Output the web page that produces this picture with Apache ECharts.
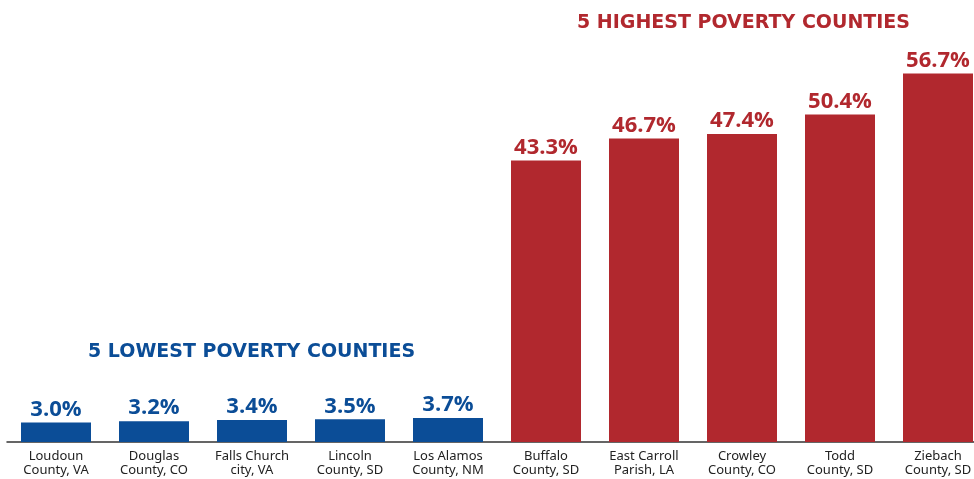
<!DOCTYPE html>
<html>
<head>
<meta charset="utf-8">
<script src="https://cdn.jsdelivr.net/npm/echarts@6/dist/echarts.min.js"></script>
<style>
html,body{margin:0;padding:0;background:#fff;}
#chart{width:974px;height:479px;}
</style>
</head>
<body>
<div id="chart"></div>
<script>
var categories = [
  "Loudoun\nCounty, VA", "Douglas\nCounty, CO", "Falls Church\ncity, VA", "Lincoln\nCounty, SD", "Los Alamos\nCounty, NM",
  "Buffalo\nCounty, SD", "East Carroll\nParish, LA", "Crowley\nCounty, CO", "Todd\nCounty, SD", "Ziebach\nCounty, SD"
];
var lowestValues = [3.0, 3.2, 3.4, 3.5, 3.7];
var highestValues = [43.3, 46.7, 47.4, 50.4, 56.7];
var lowTitle = "5 LOWEST POVERTY COUNTIES";
var highTitle = "5 HIGHEST POVERTY COUNTIES";

var BLUE = "#0b4d97";
var RED = "#b1282e";

var data = [];
lowestValues.forEach(function (v) { data.push({ value: v, itemStyle: { color: BLUE }, label: { color: BLUE } }); });
highestValues.forEach(function (v) { data.push({ value: v, itemStyle: { color: RED }, label: { color: RED } }); });

var chart = echarts.init(document.getElementById('chart'), null, { renderer: 'canvas' });
chart.setOption({
  animation: false,
  backgroundColor: '#fff',
  title: [
    { text: lowTitle, left: 88, top: 343, padding: 0, textStyle: { color: BLUE, fontFamily: 'DejaVu Sans', fontWeight: 'bold', fontSize: 19 } },
    { text: highTitle, left: 577, top: 14, padding: 0, textStyle: { color: RED, fontFamily: 'DejaVu Sans', fontWeight: 'bold', fontSize: 19 } }
  ],
  grid: { left: 7, width: 980, top: 0, bottom: 37, containLabel: false, outerBoundsMode: 'none' },
  xAxis: {
    type: 'category',
    data: categories,
    axisLine: { lineStyle: { color: '#333', width: 1.5 } },
    axisTick: { show: false },
    axisLabel: { color: '#222', fontFamily: 'Noto Sans', fontSize: 13, lineHeight: 14, margin: 7, interval: 0 }
  },
  yAxis: {
    type: 'value', min: 0, max: 68,
    show: false, splitLine: { show: false }
  },
  series: [{
    type: 'bar',
    data: data,
    barWidth: 70,
    label: {
      show: true, position: 'top', distance: 2,
      formatter: function (p) { return p.value.toFixed(1) + '%'; },
      fontFamily: 'Open Sans', fontWeight: 'bold', fontSize: 22
    }
  }]
});
</script>
</body>
</html>
